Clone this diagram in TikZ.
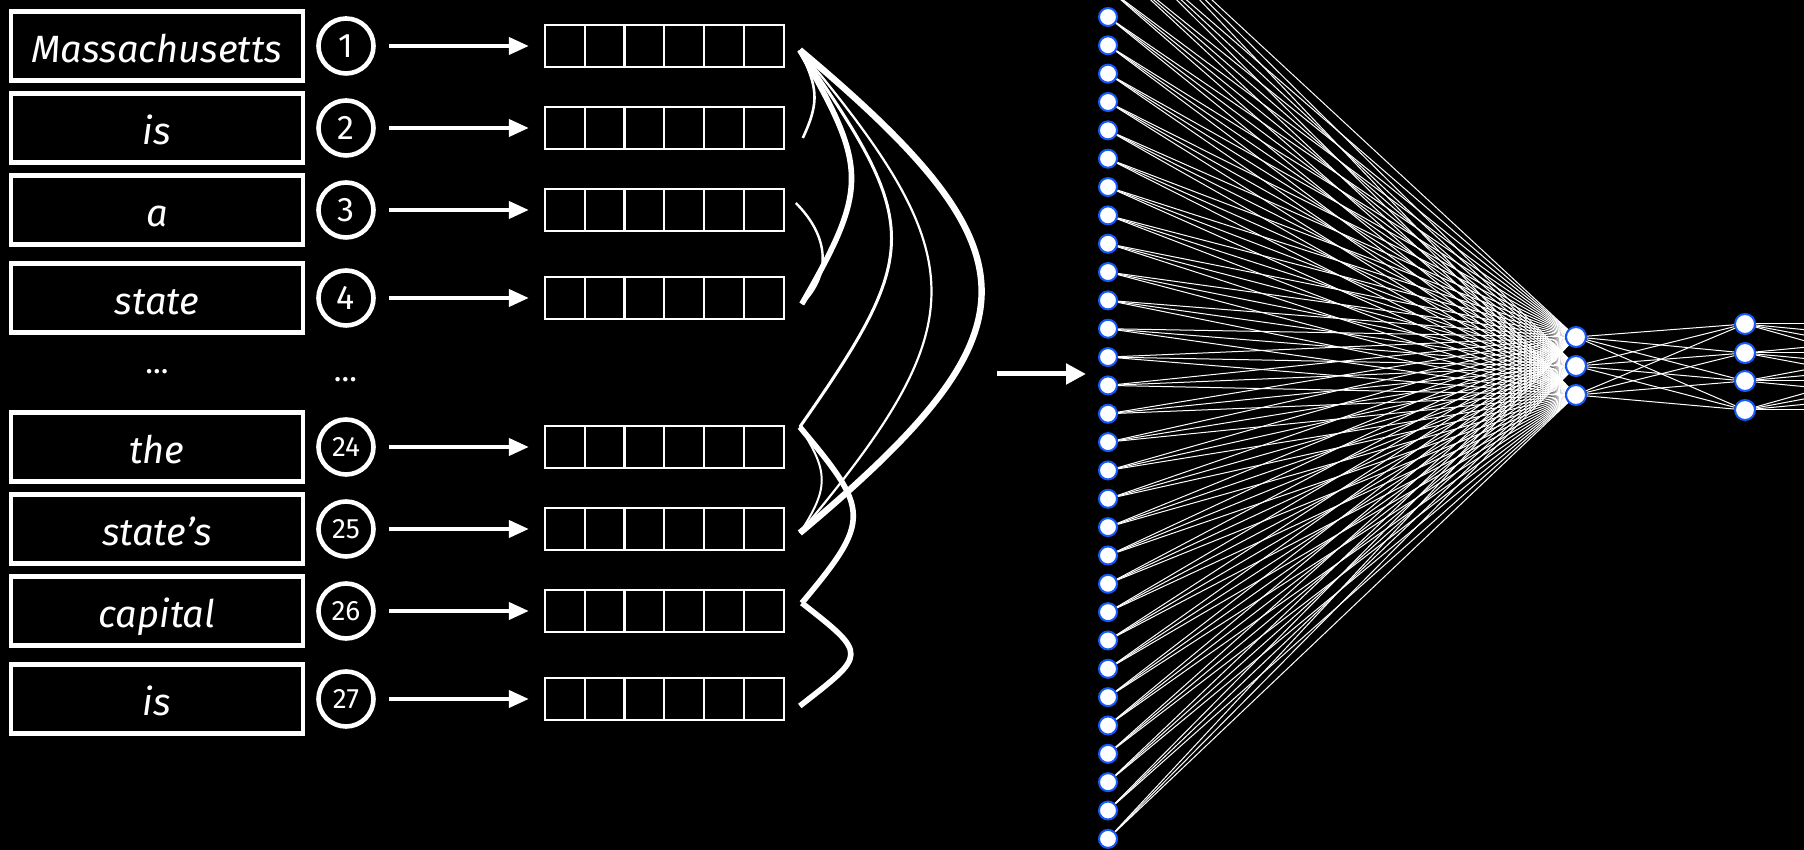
\documentclass[tikz,border=0pt]{standalone}
\usepackage{fontspec}
\setmainfont{Fira Sans}
\usepackage{tikz}
\usetikzlibrary{arrows.meta,positioning,calc,backgrounds}
\definecolor{unitblue}{RGB}{20,90,250}
\pgfdeclarelayer{canvas}
\pgfsetlayers{canvas,background,main}

\begin{document}
\begin{tikzpicture}[
    x=0.5pt, y=0.5pt,
    >=Latex,
    word/.style={draw=white, line width=2.2pt, minimum width=146pt, minimum height=34.5pt,
        inner sep=0pt, text=white, text height=16.5pt, text depth=0pt,
        font=\fontsize{19}{24}\selectfont\itshape},
    tok/.style={circle, draw=white, line width=2.3pt, minimum size=27.5pt, inner sep=0pt,
        text=white, font=\fontsize{17}{17}\selectfont},
    toksmall/.style={tok, font=\fontsize{14}{14}\selectfont},
    emb/.style={draw=white, line width=1.1pt, minimum width=119.5pt, minimum height=21pt,
        inner sep=0pt, outer sep=0pt,
        path picture={
            \foreach \k in {1,...,5}
                \draw[white, line width=1.1pt]
                    ($(path picture bounding box.south west)!\k/6!(path picture bounding box.south east)$) --
                    ($(path picture bounding box.north west)!\k/6!(path picture bounding box.north east)$);
        }},
    feed/.style={-{Triangle[length=10pt,width=8.5pt]}, white, line width=2pt,
        shorten <=6.5pt, shorten >=8pt},
    push/.style={-{Triangle[length=10pt,width=10pt]}, white, line width=2.5pt},
    attn/.style={draw=white, line width=#1},
    unit/.style={circle, draw=unitblue, fill=white, line width=1pt, minimum size=9pt, inner sep=0pt},
    unitbig/.style={unit, minimum size=10pt},
    link/.style={white, line width=0.5pt},
    dots/.style={text=white, font=\fontsize{16}{16}\selectfont},
]
\useasboundingbox (0,0) rectangle (1804,850);
\begin{pgfonlayer}{canvas}
    \fill[black] (0,0) rectangle (1804,850);
\end{pgfonlayer}

% tokens and their embeddings
\foreach \n/\y/\w/\s in {1/804/Massachusetts/tok, 2/722/is/tok, 3/640/a/tok, 4/552/state/tok,
        24/403/the/toksmall, 25/321/state's/toksmall, 26/239/capital/toksmall, 27/151/is/toksmall}{
    \node[word] (word\n) at (157,\y) {\w};
    \node[\s, right=5.5pt of word\n] (tok\n) {\n};
    \node[emb, right=84.5pt of tok\n] (emb\n) {};
    \draw[feed] (tok\n) -- (emb\n);
}
\node[dots] (worddots) at (157,478) {...};
\node[dots] (tokdots) at (345.5,470) {...};

% attention arcs
\coordinate (a1) at ([xshift=8pt,yshift=-2pt]emb1.east);
\coordinate (a2) at ([xshift=9.5pt,yshift=-5pt]emb2.east);
\coordinate (a3) at ([xshift=6pt,yshift=3.5pt]emb3.east);
\coordinate (a4) at ([xshift=9pt,yshift=-3pt]emb4.east);
\coordinate (a24) at ([xshift=8pt,yshift=10pt]emb24.east);
\coordinate (a25) at ([xshift=8pt,yshift=-2pt]emb25.east);
\coordinate (a26) at ([xshift=9pt,yshift=4pt]emb26.east);
\coordinate (a27) at ([xshift=8pt,yshift=-3.5pt]emb27.east);

\draw[attn=1.3pt] (a1) to[out=-65, in=65, looseness=1.2] (a2);
\draw[attn=2.8pt] (a1) to[out=-60, in=60, looseness=1.36] (a4);
\draw[attn=1.2pt] (a3) to[out=-45, in=45, looseness=1.13] (a4);
\draw[attn=1.5pt] (a1) to[out=-55, in=55, looseness=1.45] (a24);
\draw[attn=1.1pt] (a1) to[out=-50, in=50, looseness=1.45] (a25);
\draw[attn=3.2pt] (a1) to[out=-40, in=40, looseness=1.68] (a25);
\draw[attn=1pt] (a24) to[out=-57, in=57, looseness=1.3] (a25);
\draw[attn=2.8pt] (a24) to[out=-50, in=50, looseness=1.58] (a26);
\draw[attn=2.8pt] (a26) to[out=-38, in=38, looseness=2.1] (a27);

\coordinate (ctx) at (997,476);
\coordinate (inp) at (1086,476);
\draw[push] (ctx) -- (inp);

% network
\foreach \k in {1,...,34}
    \node[unit] (in\k) at (1108,{833-(\k-5)*28.34}) {};
\foreach \k/\y in {1/513,2/484,3/455}
    \node[unitbig] (hid\k) at (1576,\y) {};
\foreach \k/\y in {1/526,2/497,3/469,4/440}
    \node[unitbig] (out\k) at (1745,\y) {};
\foreach \k/\y in {1/526,2/497,3/469,4/440}
    \node[unitbig] (nxt\k) at (2050,\y) {};

\begin{scope}[on background layer]
    \foreach \i in {1,...,34}
        \foreach \j in {1,2,3}
            \draw[link] (in\i) -- (hid\j);
    \foreach \i in {1,2,3}
        \foreach \j in {1,...,4}
            \draw[link] (hid\i) -- (out\j);
    \foreach \i in {1,...,4}
        \foreach \j in {1,...,4}
            \draw[link] (out\i) -- (nxt\j);
\end{scope}
\end{tikzpicture}
\end{document}
